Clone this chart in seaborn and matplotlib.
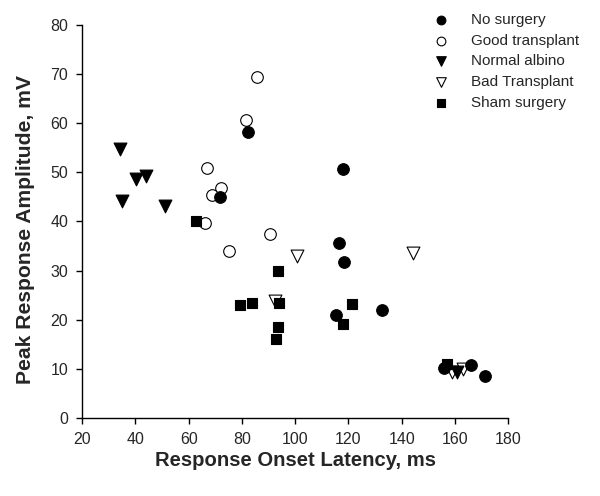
import numpy as np
import pandas as pd
import matplotlib
matplotlib.use("Agg")
import matplotlib.pyplot as plt
import seaborn as sns

sns.set_style("ticks")
plt.rcParams["font.family"] = ["Liberation Sans", "DejaVu Sans"]

# values (latency ms, amplitude mV)
no_surgery_x = [82.1, 71.6, 117.8, 116.5, 118.4, 115.5, 132.5, 155.7, 166.0, 171.1]
no_surgery_y = [58.2, 44.9, 50.7, 35.6, 31.8, 21.0, 21.9, 10.2, 10.9, 8.6]

good_x = [85.8, 81.6, 66.8, 72.2, 68.7, 66.3, 90.7, 75.1]
good_y = [69.3, 60.7, 50.9, 46.8, 45.4, 39.6, 37.5, 33.9]

albino_x = [34.2, 40.2, 44.0, 34.8, 51.2, 160.9]
albino_y = [54.8, 48.6, 49.2, 44.1, 43.2, 9.4]

bad_x = [100.8, 144.1, 92.3, 158.8, 163.2]
bad_y = [33.0, 33.5, 23.9, 9.3, 10.0]

sham_x = [62.8, 93.5, 79.4, 83.6, 93.8, 93.5, 92.7, 121.4, 118.0, 156.9]
sham_y = [40.1, 30.0, 23.1, 23.4, 23.5, 18.6, 16.0, 23.2, 19.1, 11.0]

groups = ["No surgery", "Good transplant", "Normal albino", "Bad Transplant", "Sham surgery"]

fig = plt.figure(figsize=(6, 4.96), dpi=100)
ax = fig.add_axes([0.137, 0.157, 0.710, 0.793])

# (name, x, y, marker, face, size) -- drawn back to front
layers = [
    ("Good transplant", good_x, good_y, "o", "white", 70),
    ("Bad Transplant", bad_x, bad_y, "v", "white", 85),
    ("No surgery", no_surgery_x, no_surgery_y, "o", "black", 70),
    ("Normal albino", albino_x, albino_y, "v", "black", 85),
    ("Sham surgery", sham_x, sham_y, "s", "black", 60),
]

for name, xs, ys, mk, face, sz in layers:
    sns.scatterplot(x=xs, y=ys, ax=ax, marker=mk, s=sz, color=face,
                    edgecolor="black", linewidth=0.8, label=name)

handles, labels = ax.get_legend_handles_labels()
order = [labels.index(g) for g in groups]
ax.legend([handles[i] for i in order], groups, loc="upper left",
          bbox_to_anchor=(0.712, 0.986), bbox_transform=fig.transFigure,
          frameon=False, fontsize=11, markerscale=0.75, handlelength=1.0,
          handletextpad=1.45, labelspacing=0.44, borderaxespad=0)

ax.set_xlim(20, 180)
ax.set_ylim(0, 80)
ax.set_xticks(range(20, 181, 20))
ax.set_yticks(range(0, 81, 10))
ax.tick_params(labelsize=11.5, length=4.5, width=1, pad=5.5, direction="out", color="black")
for sp in ["left", "bottom"]:
    ax.spines[sp].set_linewidth(1)
    ax.spines[sp].set_color("black")
sns.despine(ax=ax)

ax.set_xlabel("Response Onset Latency, ms", fontsize=14.6, fontweight="bold", labelpad=3)
ax.set_ylabel("Peak Response Amplitude, mV", fontsize=15.2, fontweight="bold")
ax.yaxis.set_label_coords(-0.11, 0.48)

fig.savefig("out.png", dpi=100)
